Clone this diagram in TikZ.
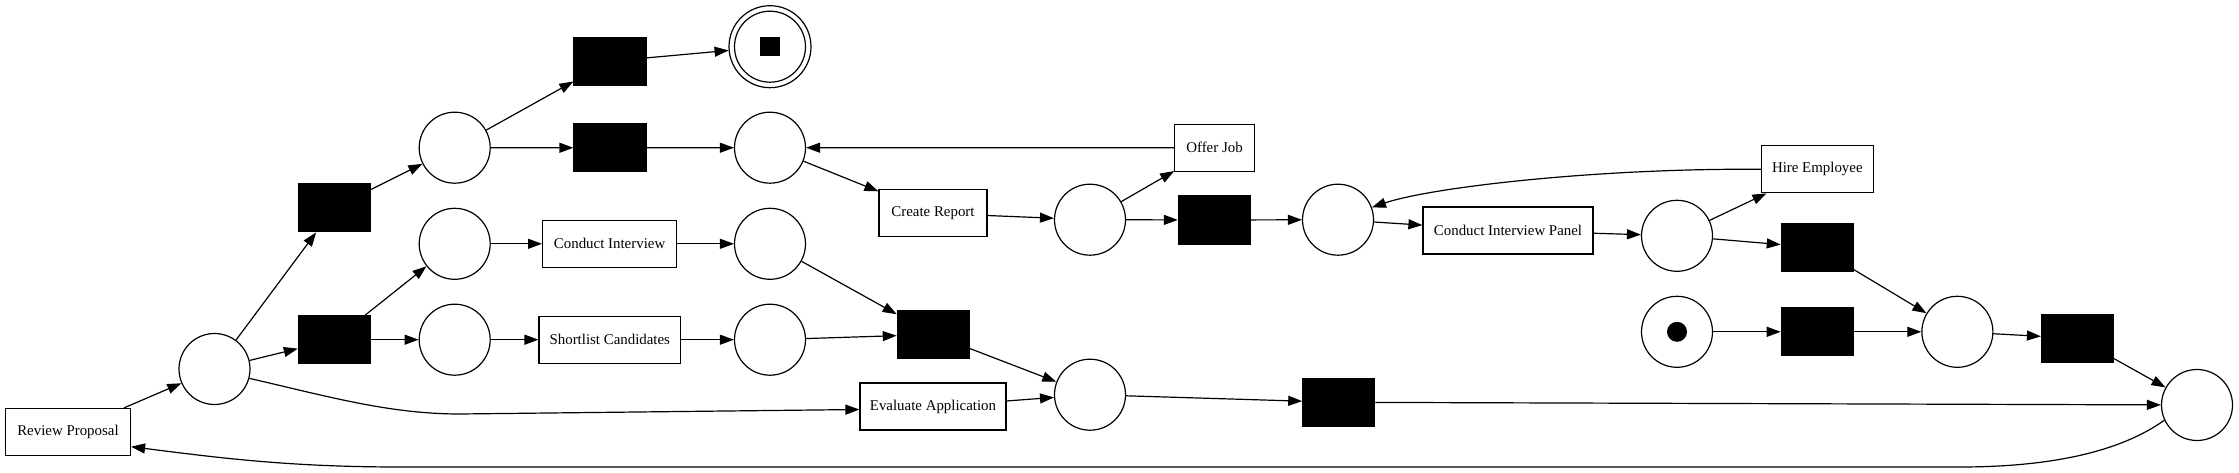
\documentclass[tikz,border=0pt]{standalone}
\usepackage{fontspec}
\setmainfont{Liberation Serif}
\usetikzlibrary{arrows.meta}
\begin{document}
\begin{tikzpicture}[x=1pt,y=-1pt,line width=1.2pt,
  place/.style={circle,draw,minimum size=71pt,inner sep=0pt},
  trans/.style={rectangle,draw,fill=black,minimum width=72pt,minimum height=48pt,inner sep=0pt},
  task/.style={rectangle,draw,minimum height=47pt,inner sep=0pt,font=\fontsize{14.9}{17}\selectfont},
  arc/.style={-{Triangle[length=14pt,width=10pt]}},
]
\useasboundingbox (0,0) rectangle (2239,473);
\node[task,minimum width=125pt] (rp) at (68,432) {Review Proposal};
\node[place] (p1) at (214.5,369) {};
\node[trans] (ta) at (334.4,207.8) {};
\node[trans] (tb) at (334.4,339.7) {};
\node[place] (p2) at (454.7,147.7) {};
\node[place] (p3) at (454.7,243.8) {};
\node[place] (p4) at (454.7,339.7) {};
\node[trans] (tc) at (610,61.2) {};
\node[trans] (td) at (610,147.8) {};
\node[task,minimum width=134pt] (ci) at (609.6,243.8) {Conduct Interview};
\node[task,minimum width=141.5pt] (sc) at (609.8,339.7) {Shortlist Candidates};
\node[place] (fin) at (770,46.7) {};
\node[circle,draw,minimum size=82pt,inner sep=0pt] (finout) at (770,46.7) {};
\node[fill=black,minimum width=20pt,minimum height=19pt,inner sep=0pt] (fintok) at (770,47) {};
\node[place] (p5) at (770,147.7) {};
\node[place] (p6) at (770,243.8) {};
\node[place] (p7) at (770,339.7) {};
\node[task,minimum width=108pt] (cr) at (933,213.3) {Create Report};
\node[task,minimum width=146pt] (ea) at (933,406.5) {Evaluate Application};
\node[trans] (tg) at (933.3,334.5) {};
\node[place] (p8) at (1090,219.7) {};
\node[place] (p10) at (1090,394.7) {};
\node[task,minimum width=79.5pt] (oj) at (1214.5,147.8) {Offer Job};
\node[trans] (te) at (1214.4,220) {};
\node[trans] (tf) at (1338.8,402.3) {};
\node[place] (p9) at (1338,219.7) {};
\node[task,minimum width=170pt] (cip) at (1508,230.6) {Conduct Interview Panel};
\node[place] (p11) at (1677,235.8) {};
\node[place] (p0) at (1677,331.8) {};
\node[circle,fill=black,minimum size=20pt,inner sep=0pt] (tok) at (1677,331.8) {};
\node[task,minimum width=111.6pt] (he) at (1817.3,169.3) {Hire Employee};
\node[trans] (th) at (1817.3,247.7) {};
\node[trans] (ti) at (1817.3,331.8) {};
\node[place] (p12) at (1957.4,331.8) {};
\node[trans] (tj) at (2077.5,338.3) {};
\node[place] (p13) at (2197,405) {};

\draw[arc] (rp) -- (p1);
\draw[arc] (p1) -- (ta);
\draw[arc] (p1) -- (tb);
\draw[arc] (p1.-15) .. controls (330,397) and (390,414) .. (460,414) -- ([yshift=-3pt]ea.west);
\draw[arc] (ta) -- (p2);
\draw[arc] (tb) -- (p3);
\draw[arc] (tb) -- (p4);
\draw[arc] (p2) -- (tc);
\draw[arc] (p2) -- (td);
\draw[arc] (tc) -- (finout);
\draw[arc] (td) -- (p5);
\draw[arc] (p3) -- (ci);
\draw[arc] (ci) -- (p6);
\draw[arc] (p4) -- (sc);
\draw[arc] (sc) -- (p7);
\draw[arc] (oj) -- (p5);
\draw[arc] (p5) -- (cr);
\draw[arc] (p6) -- (tg);
\draw[arc] (p7) -- (tg);
\draw[arc] (tg) -- (p10);
\draw[arc] (ea) -- (p10);
\draw[arc] (p10) -- (tf);
\draw[arc] (tf) -- (p13);
\draw[arc] (cr) -- (p8);
\draw[arc] (p8) -- (oj);
\draw[arc] (p8) -- (te);
\draw[arc] (te) -- (p9);
\draw[arc] (he.west) .. controls (1600,168) and (1432,187) .. (p9.20);
\draw[arc] (p9) -- (cip);
\draw[arc] (cip) -- (p11);
\draw[arc] (p11) -- (he);
\draw[arc] (p11) -- (th);
\draw[arc] (th) -- (p12);
\draw[arc] (p0) -- (ti);
\draw[arc] (ti) -- (p12);
\draw[arc] (p12) -- (tj);
\draw[arc] (tj) -- (p13);
\draw[arc] (p13.-155) .. controls (2120,452) and (2050,467) .. (1960,467) -- (400,467) .. controls (290,467) and (220,458) .. ([yshift=-14.7pt]rp.east);
\end{tikzpicture}
\end{document}
